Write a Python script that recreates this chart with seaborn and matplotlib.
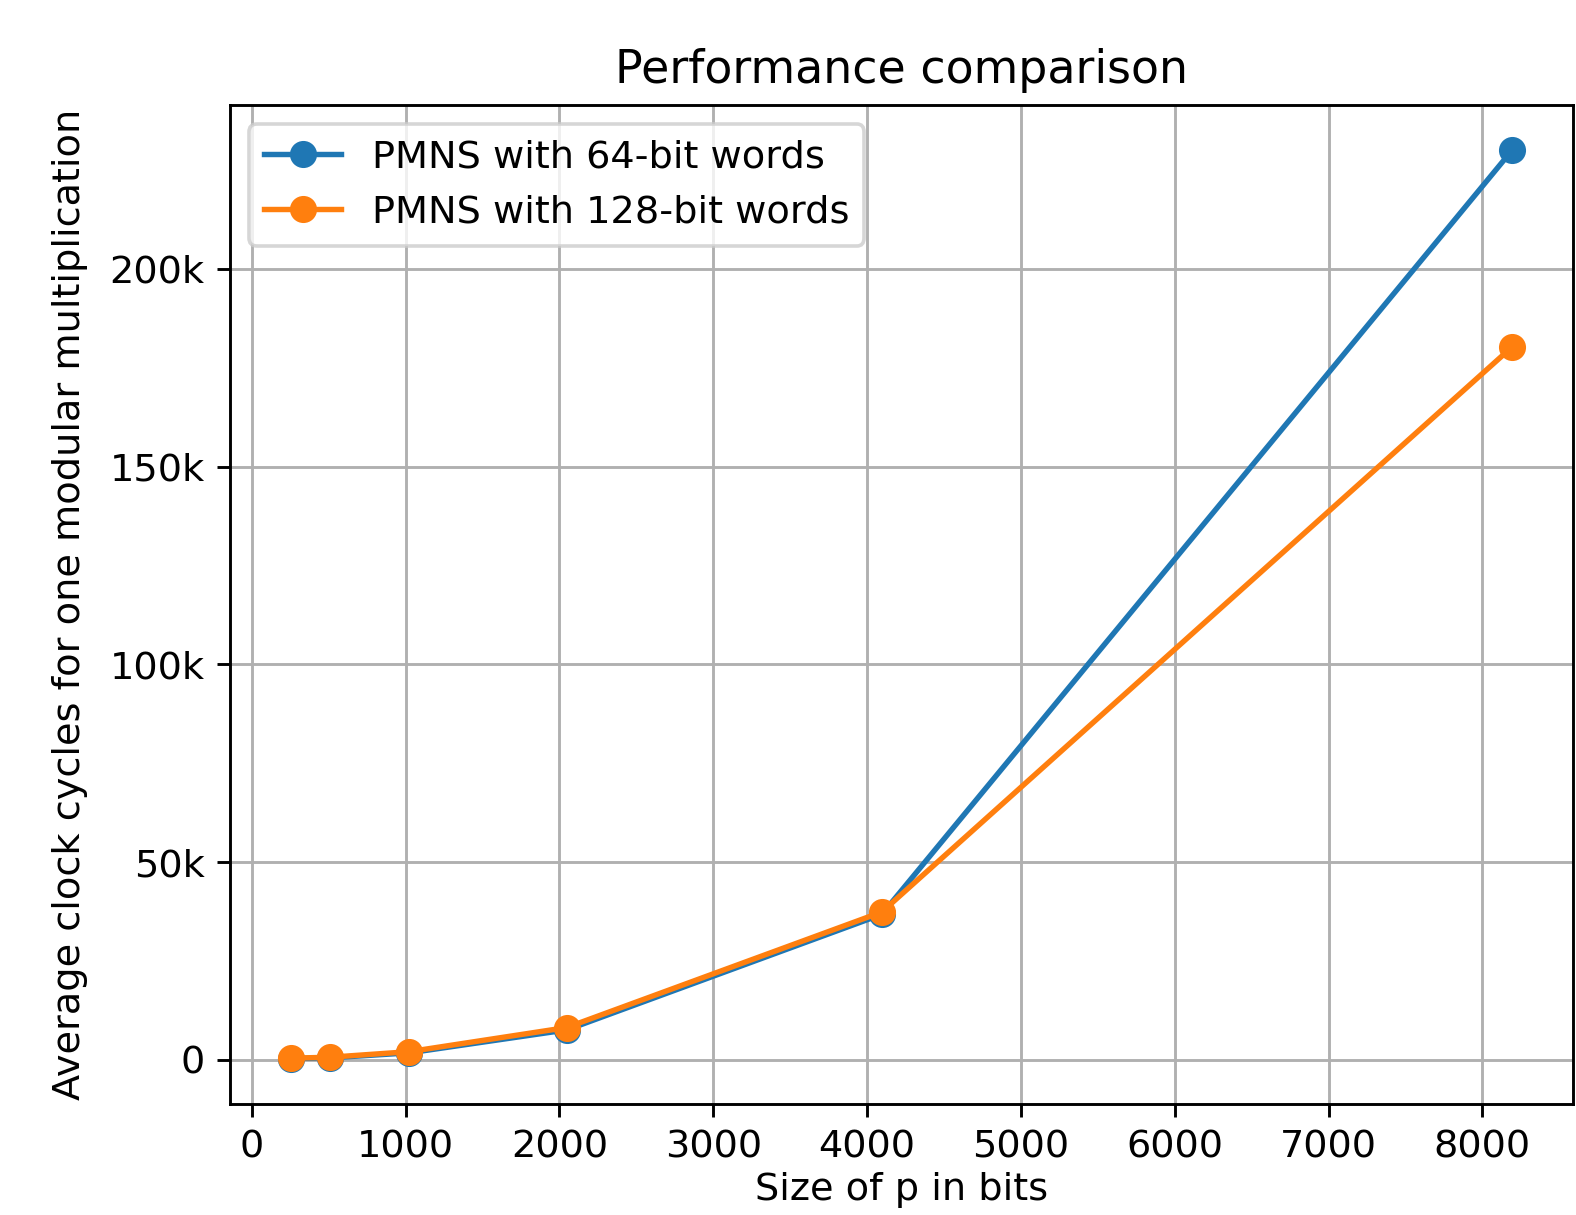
import pandas as pd
import matplotlib
matplotlib.use("Agg")
import matplotlib.pyplot as plt
from matplotlib.ticker import FuncFormatter
import seaborn as sns

# bit sizes of p
p_bits = [256, 512, 1024, 2048, 4096, 8192]
# average clock cycles per modular multiplication
cycles_64 = [350, 550, 1800, 7600, 36800, 229900]
cycles_128 = [450, 700, 2100, 8200, 37400, 180200]

series_labels = ["PMNS with 64-bit words", "PMNS with 128-bit words"]
colors = ["#1f77b4", "#ff7f0e"]

plt.rcParams["font.size"] = 10.6

dpi = 260
W, H = 1576, 1215
fig = plt.figure(figsize=(W / dpi, H / dpi), dpi=dpi)
# axes box in pixels: left 230, right 1573, top 105, bottom 1104
ax = fig.add_axes([230 / W, 1 - 1104 / H, (1573 - 230) / W, (1104 - 105) / H])

for vals, label, color in zip([cycles_64, cycles_128], series_labels, colors):
    df = pd.DataFrame({"bits": p_bits, "cycles": vals})
    sns.lineplot(data=df, x="bits", y="cycles", marker="o", color=color,
                 markeredgecolor=color, markeredgewidth=1, markersize=6.5,
                 linewidth=1.5, label=label, ax=ax)

ax.yaxis.set_major_formatter(FuncFormatter(lambda v, _: "0" if v == 0 else f"{int(v / 1000)}k"))
ax.grid(True)
ax.set_title("Performance comparison")
ax.set_xlabel("Size of p in bits", labelpad=2)
ax.set_ylabel("Average clock cycles for one modular multiplication", labelpad=6)
ax.legend(loc="upper left")

plt.savefig("out.png", dpi=dpi)
